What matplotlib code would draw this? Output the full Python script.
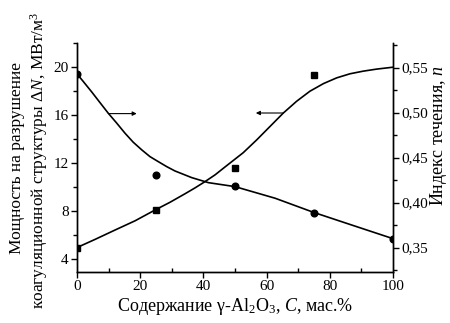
import numpy as np
import matplotlib
matplotlib.use("Agg")
import matplotlib.pyplot as plt
from matplotlib.ticker import MultipleLocator, FuncFormatter

plt.rcParams['font.family'] = ['Liberation Serif', 'DejaVu Serif']
plt.rcParams['mathtext.fontset'] = 'custom'
plt.rcParams['mathtext.rm'] = 'Liberation Serif'
plt.rcParams['mathtext.it'] = 'Liberation Serif:italic'

# measured points
c_pts = [0, 25, 50, 75, 100]
dN_pts = [4.9, 8.06, 11.6, 19.33]          # squares, left axis (0..75)
n_pts = [0.543, 0.431, 0.418, 0.389, 0.360]  # circles, right axis

# fitted curves
c_dN_curve = [0, 5.7, 12.0, 18.4, 24.7, 29.4, 34.2, 37.3, 40.5, 43.7, 46.8, 52.6,
              56.9, 61.1, 65.3, 69.5, 73.7, 78.0, 82.2, 86.4, 90.6, 94.8, 100]
dN_curve = [4.92, 5.6, 6.38, 7.16, 8.06, 8.7, 9.42, 9.9, 10.43, 11.0, 11.65, 12.85,
            13.93, 15.05, 16.17, 17.15, 17.99, 18.63, 19.11, 19.45, 19.67, 19.84, 20.0]
c_n_curve = [0, 2.0, 4.65, 7.3, 9.9, 12.6, 15.2, 17.8, 20.5, 23.1, 25.7, 28.4, 31.0,
             36.3, 41.6, 50, 62.7, 74.8, 86.9, 100]
n_curve = [0.543, 0.5345, 0.523, 0.511, 0.4993, 0.4882, 0.4771, 0.4671, 0.4586,
           0.4511, 0.4456, 0.44, 0.4352, 0.4278, 0.4222, 0.4178, 0.4049, 0.3893,
           0.3752, 0.3600]


def main():
    fig = plt.figure(figsize=(4.5, 3.23), dpi=100)
    ax = fig.add_axes([0.1711, 0.1588, 0.7022, 0.7072])
    ax2 = ax.twinx()

    ax.plot(c_dN_curve, dN_curve, color='black', linewidth=1.2)
    ax.plot(c_pts[:4], dN_pts, 's', color='black', markersize=4.8)
    ax2.plot(c_n_curve, n_curve, color='black', linewidth=1.2)
    ax2.plot(c_pts, n_pts, 'o', color='black', markersize=4.8)

    ax.annotate('', xy=(18.9, 16.12), xytext=(9.9, 16.12),
                arrowprops=dict(arrowstyle='-|>', color='black', lw=0.8,
                                mutation_scale=6, shrinkA=0, shrinkB=0))
    ax.annotate('', xy=(56.6, 16.17), xytext=(65.3, 16.17),
                arrowprops=dict(arrowstyle='-|>', color='black', lw=0.8,
                                mutation_scale=6, shrinkA=0, shrinkB=0))

    ax.set_xlim(0, 100)
    ax.set_ylim(2.9, 22.0)
    ax2.set_ylim(0.3233, 0.577)

    ax.xaxis.set_major_locator(MultipleLocator(20))
    ax.xaxis.set_minor_locator(MultipleLocator(10))
    ax.yaxis.set_major_locator(MultipleLocator(4))
    ax.yaxis.set_minor_locator(MultipleLocator(2))
    ax2.yaxis.set_major_locator(MultipleLocator(0.05))
    ax2.yaxis.set_minor_locator(MultipleLocator(0.025))
    ax2.yaxis.set_major_formatter(FuncFormatter(lambda v, p: ('%.2f' % v).replace('.', ',')))

    for a in (ax, ax2):
        a.spines['top'].set_visible(False)
        for s in a.spines.values():
            s.set_linewidth(1.0)
    ax.tick_params(axis='both', which='major', labelsize=11, length=4, width=1.0, direction='out', pad=2)
    ax.tick_params(axis='both', which='minor', length=3, width=1.0, direction='out')
    ax.tick_params(axis='x', which='minor', direction='in')
    ax2.tick_params(axis='y', which='major', labelsize=11, length=4, width=1.0, direction='out', pad=2)
    ax2.tick_params(axis='y', which='minor', length=3, width=1.0, direction='out')

    ax.set_xlabel('Содержание γ-Al$_2$O$_3$, $C$, мас.%', fontsize=13, labelpad=2)
    fig.text(0.038, 0.51, 'Мощность на разрушение', rotation=90, fontsize=12.5,
             ha='center', va='center')
    fig.text(0.087, 0.505, 'коагуляционной структуры Δ$N$, МВт/м$^3$', rotation=90,
             fontsize=12.5, ha='center', va='center')
    fig.text(0.975, 0.58, 'Индекс течения, $n$', rotation=90, fontsize=13,
             ha='center', va='center')

    fig.savefig('out.png', dpi=100)


if __name__ == '__main__':
    main()
